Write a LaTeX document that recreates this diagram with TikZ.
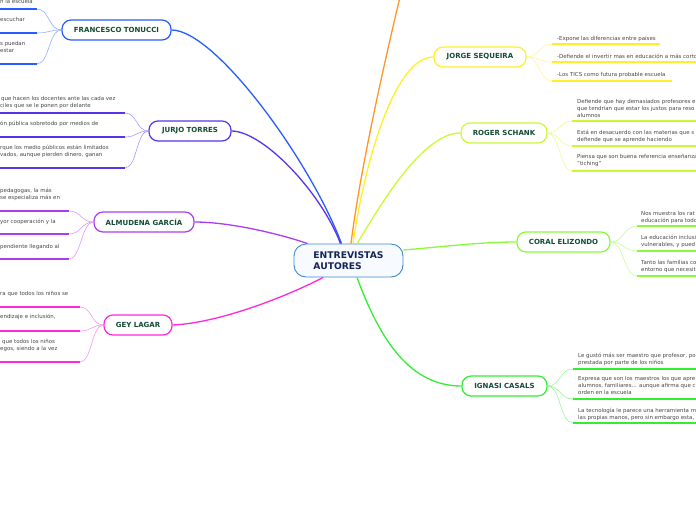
\documentclass[tikz,border=0pt]{standalone}
\usepackage{fontspec}
\setmainfont{DejaVu Sans}
\usepackage{xcolor}
\usepackage{tikz}
\usetikzlibrary{positioning,calc}
\definecolor{hubline}{RGB}{58,138,208}
\definecolor{hubfill}{RGB}{247,251,255}
\definecolor{hubtxt}{RGB}{22,36,84}
\definecolor{authortxt}{RGB}{20,75,55}
\definecolor{notetxt}{RGB}{70,70,70}
\definecolor{cTon}{RGB}{40,92,255}
\definecolor{cTor}{RGB}{88,52,238}
\definecolor{cGar}{RGB}{172,60,240}
\definecolor{cLag}{RGB}{255,40,220}
\definecolor{cOra}{RGB}{255,150,40}
\definecolor{cSeq}{RGB}{255,238,40}
\definecolor{cSch}{RGB}{204,250,50}
\definecolor{cEli}{RGB}{136,250,60}
\definecolor{cCas}{RGB}{50,238,50}
\tikzset{
  hubbox/.style={rectangle, rounded corners=12pt, draw=hubline, line width=0.9pt, fill=hubfill, text=hubtxt, font=\fontsize{9.2}{11}\selectfont\bfseries, align=left, minimum width=109pt, minimum height=33pt, inner sep=0pt},
  author/.style={rectangle, rounded corners=9pt, draw=#1, line width=1.2pt, fill=white, text=authortxt, font=\fontsize{7}{8}\selectfont\bfseries, minimum height=20pt, inner sep=0pt},
  note/.style={font=\fontsize{5.45}{6.9}\selectfont, text=notetxt, align=left, inner sep=0pt, anchor=north west},
  branch/.style={line width=1.3pt, draw=#1},
  twig/.style={line width=0.6pt, draw=#1!50},
  leaf/.style={line width=1.8pt, draw=#1}
}
\begin{document}
\begin{tikzpicture}[x=1pt, y=-1pt]
\useasboundingbox (0,0) rectangle (696,520);
\clip (0,0) rectangle (696,520);
% centre and authors
\node[hubbox] (hub) at (348.5,260.5) {ENTREVISTAS\\AUTORES};
\node[author=cTon, minimum width=109pt] (tonucci) at (116.5,30) {FRANCESCO TONUCCI};
\node[author=cTor, minimum width=82pt] (torres) at (190,131) {JURJO TORRES};
\node[author=cGar, minimum width=100pt] (garcia) at (144,222) {ALMUDENA GARCÍA};
\node[author=cLag, minimum width=68pt] (lagar) at (138,325) {GEY LAGAR};
\node[author=cSeq, minimum width=92pt] (sequeira) at (480,57) {JORGE SEQUEIRA};
\node[author=cSch, minimum width=86pt] (schank) at (504,133) {ROGER SCHANK};
\node[author=cEli, minimum width=93pt] (elizondo) at (563.5,242) {CORAL ELIZONDO};
\node[author=cCas, minimum width=85pt] (casals) at (504.5,386) {IGNASI CASALS};
\coordinate (offtop) at (400,-3);
% main branches
\draw[branch=cTon] ($(hub.north)+(-7,0)$) .. controls (310,160) and (215,30) .. (tonucci.east);
\draw[branch=cTor] ($(hub.north)+(-8,0)$) .. controls (320,190) and (262,131) .. (torres.east);
\draw[branch=cGar] ($(hub.north west)+(14,0)$) .. controls (280,234) and (230,222) .. (garcia.east);
\draw[branch=cLag] ($(hub.south)+(-25.5,0)$) .. controls (290,295) and (220,323) .. (lagar.east);
\draw[branch=cOra] ($(hub.north)+(2.5,0)$) .. controls (360,170) and (385,60) .. (offtop);
\draw[branch=cSeq] ($(hub.north)+(4.5,0)$) .. controls (365,160) and (395,57) .. (sequeira.west);
\draw[branch=cSch] ($(hub.north)+(8.5,0)$) .. controls (375,215) and (420,133) .. (schank.west);
\draw[branch=cEli] ($(hub.east)+(0,-10.5)$) .. controls (440,247) and (480,242) .. (elizondo.west);
\draw[branch=cCas] ($(hub.south)+(8.5,0)$) .. controls (380,340) and (410,386) .. (casals.west);
% Tonucci
\coordinate (ton1) at (36.7,9);  \coordinate (ton1x) at (-3,9);
\coordinate (ton2) at (36.7,33); \coordinate (ton2x) at (-3,33);
\coordinate (ton3) at (36.7,64); \coordinate (ton3x) at (-3,64);
\draw[twig=cTon] (tonucci.west) .. controls +(-13,0) and +(13,0) .. (ton1);
\draw[twig=cTon] (tonucci.west) .. controls +(-13,0) and +(13,0) .. (ton2);
\draw[twig=cTon] (tonucci.west) .. controls +(-13,0) and +(13,0) .. (ton3);
\draw[leaf=cTon] (ton1) -- (ton1x);
\draw[leaf=cTon] (ton2) -- (ton2x);
\draw[leaf=cTon] (ton3) -- (ton3x);
\node[note] (ton1t) at (0,-0.8) {n la escuela};
\node[note] (ton2t) at (0,17.2) {escuchar};
\node[note] (ton3t) at (0,41.2) {s puedan\\estar};
% Torres
\coordinate (tor1) at (125,113); \coordinate (tor1x) at (-3,113);
\coordinate (tor2) at (125,137); \coordinate (tor2x) at (-3,137);
\coordinate (tor3) at (125,168); \coordinate (tor3x) at (-3,168);
\draw[twig=cTor] (torres.west) .. controls +(-12,0) and +(12,0) .. (tor1);
\draw[twig=cTor] (torres.west) .. controls +(-12,0) and +(12,0) .. (tor2);
\draw[twig=cTor] (torres.west) .. controls +(-12,0) and +(12,0) .. (tor3);
\draw[leaf=cTor] (tor1) -- (tor1x);
\draw[leaf=cTor] (tor2) -- (tor2x);
\draw[leaf=cTor] (tor3) -- (tor3x);
\node[note] (tor1t) at (0,96.2) {\hspace{1pt}que hacen los docentes ante las cada vez\\ciles que se le ponen por delante};
\node[note] (tor2t) at (0,121.2) {ón pública sobretodo por medios de};
\node[note] (tor3t) at (0,145.2) {rque los medio públicos están limitados\\vados, aunque pierden dinero, ganan};
% Garcia
\coordinate (gar1) at (69,211); \coordinate (gar1x) at (-3,211);
\coordinate (gar2) at (69,234); \coordinate (gar2x) at (-3,234);
\coordinate (gar3) at (69,259); \coordinate (gar3x) at (-3,259);
\draw[twig=cGar] (garcia.west) .. controls +(-12,0) and +(12,0) .. (gar1);
\draw[twig=cGar] (garcia.west) .. controls +(-12,0) and +(12,0) .. (gar2);
\draw[twig=cGar] (garcia.west) .. controls +(-12,0) and +(12,0) .. (gar3);
\draw[leaf=cGar] (gar1) -- (gar1x);
\draw[leaf=cGar] (gar2) -- (gar2x);
\draw[leaf=cGar] (gar3) -- (gar3x);
\node[note] (gar1t) at (0,188.2) {pedagogas, la más\\se especializa más en};
\node[note] (gar2t) at (0,219.2) {yor cooperación y la};
\node[note] (gar3t) at (0,244.2) {pendiente llegando al};
% Lagar
\coordinate (lag1) at (80,307); \coordinate (lag1x) at (-3,307);
\coordinate (lag2) at (80,331); \coordinate (lag2x) at (-3,331);
\coordinate (lag3) at (80,362); \coordinate (lag3x) at (-3,362);
\draw[twig=cLag] (lagar.west) .. controls +(-12,0) and +(12,0) .. (lag1);
\draw[twig=cLag] (lagar.west) .. controls +(-12,0) and +(12,0) .. (lag2);
\draw[twig=cLag] (lagar.west) .. controls +(-12,0) and +(12,0) .. (lag3);
\draw[leaf=cLag] (lag1) -- (lag1x);
\draw[leaf=cLag] (lag2) -- (lag2x);
\draw[leaf=cLag] (lag3) -- (lag3x);
\node[note] (lag1t) at (0,291.2) {ra que todos los niños se};
\node[note] (lag2t) at (0,314.2) {endizaje e inclusión,};
\node[note] (lag3t) at (0,339.2) {\hspace{2pt}que todos los niños\\egos, siendo a la vez};
% Sequeira
\coordinate (seq1) at (552,44); \coordinate (seq1x) at (660,44);
\coordinate (seq2) at (552,62); \coordinate (seq2x) at (700,62);
\coordinate (seq3) at (552,81); \coordinate (seq3x) at (672,81);
\draw[twig=cSeq] (sequeira.east) .. controls +(13,0) and +(-13,0) .. (seq1);
\draw[twig=cSeq] (sequeira.east) .. controls +(13,0) and +(-13,0) .. (seq2);
\draw[twig=cSeq] (sequeira.east) .. controls +(13,0) and +(-13,0) .. (seq3);
\draw[leaf=cSeq] (seq1) -- (seq1x);
\draw[leaf=cSeq] (seq2) -- (seq2x);
\draw[leaf=cSeq] (seq3) -- (seq3x);
\node[note] (seq1t) at (557,36.2) {-Expone las diferencias entre países};
\node[note] (seq2t) at (557,54.2) {-Defiende el invertir mas en educación a más corto};
\node[note] (seq3t) at (557,72.2) {-Los TICS como futura probable escuela};
% Schank
\coordinate (sch1) at (572,121); \coordinate (sch1x) at (700,121);
\coordinate (sch2) at (572,146); \coordinate (sch2x) at (700,146);
\coordinate (sch3) at (572,171); \coordinate (sch3x) at (700,171);
\draw[twig=cSch] (schank.east) .. controls +(12,0) and +(-12,0) .. (sch1);
\draw[twig=cSch] (schank.east) .. controls +(12,0) and +(-12,0) .. (sch2);
\draw[twig=cSch] (schank.east) .. controls +(12,0) and +(-12,0) .. (sch3);
\draw[leaf=cSch] (sch1) -- (sch1x);
\draw[leaf=cSch] (sch2) -- (sch2x);
\draw[leaf=cSch] (sch3) -- (sch3x);
\node[note] (sch1t) at (577,99.2) {Defiende que hay demasiados profesores e\\que tendrían que estar los justos para reso\\alumnos};
\node[note] (sch2t) at (577,130.2) {Está en desacuerdo con las materias que s\\defiende que se aprende haciendo};
\node[note] (sch3t) at (577,154.2) {Piensa que son buena referencia enseñanza\\"tiching"};
% Elizondo
\coordinate (eli1) at (637,226); \coordinate (eli1x) at (700,226);
\coordinate (eli2) at (637,251); \coordinate (eli2x) at (700,251);
\coordinate (eli3) at (637,276); \coordinate (eli3x) at (700,276);
\draw[twig=cEli] (elizondo.east) .. controls +(13,0) and +(-13,0) .. (eli1);
\draw[twig=cEli] (elizondo.east) .. controls +(13,0) and +(-13,0) .. (eli2);
\draw[twig=cEli] (elizondo.east) .. controls +(13,0) and +(-13,0) .. (eli3);
\draw[leaf=cEli] (eli1) -- (eli1x);
\draw[leaf=cEli] (eli2) -- (eli2x);
\draw[leaf=cEli] (eli3) -- (eli3x);
\node[note] (eli1t) at (641,211.2) {Nos muestra los rat\\educación para todo};
\node[note] (eli2t) at (641,235.2) {La educación inclusi\\vulnerables, y pued};
\node[note] (eli3t) at (641,260.2) {Tanto las familias co\\entorno que necesit};
% Casals
\coordinate (cas1) at (573,369); \coordinate (cas1x) at (700,369);
\coordinate (cas2) at (573,399); \coordinate (cas2x) at (700,399);
\coordinate (cas3) at (573,423); \coordinate (cas3x) at (700,423);
\draw[twig=cCas] (casals.east) .. controls +(13,0) and +(-13,0) .. (cas1);
\draw[twig=cCas] (casals.east) .. controls +(13,0) and +(-13,0) .. (cas2);
\draw[twig=cCas] (casals.east) .. controls +(13,0) and +(-13,0) .. (cas3);
\draw[leaf=cCas] (cas1) -- (cas1x);
\draw[leaf=cCas] (cas2) -- (cas2x);
\draw[leaf=cCas] (cas3) -- (cas3x);
\node[note] (cas1t) at (578,353.2) {Le gustó más ser maestro que profesor, po\\prestada por parte de los niños};
\node[note] (cas2t) at (578,376.2) {Expresa que son los maestros los que apre\\alumnos, familiares... aunque afirma que c\\orden en la escuela};
\node[note] (cas3t) at (578,408.2) {La tecnología le parece una herramienta m\\las propias manos, pero sin embargo esta,};
\end{tikzpicture}
\end{document}
